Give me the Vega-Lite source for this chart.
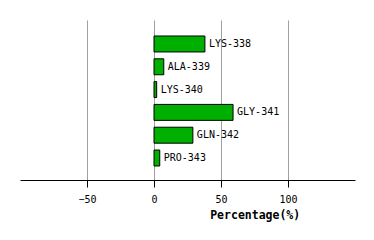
{
  "$schema": "https://vega.github.io/schema/vega-lite/v6.json",
  "width": 335,
  "height": 160,
  "autosize": "none",
  "padding": {"left": 20, "top": 20, "right": 19, "bottom": 60},
  "background": "white",
  "config": {"view": {"stroke": null}},
  "data": {
    "values": [
      {"residue": "LYS-338", "pct": 38},
      {"residue": "ALA-339", "pct": 7.3},
      {"residue": "LYS-340", "pct": 2},
      {"residue": "GLY-341", "pct": 59},
      {"residue": "GLN-342", "pct": 29},
      {"residue": "PRO-343", "pct": 4.3}
    ]
  },
  "encoding": {
    "y": {
      "field": "residue",
      "type": "nominal",
      "sort": null,
      "scale": {"paddingInner": 0.3, "paddingOuter": 0.658, "align": 0.533},
      "axis": null
    },
    "x": {
      "field": "pct",
      "type": "quantitative",
      "scale": {"domain": [-100, 150], "nice": false, "zero": false},
      "axis": {
        "values": [-50, 0, 50, 100],
        "title": "Percentage(%)",
        "titleFont": "DejaVu Sans Mono",
        "titleFontSize": 11.5,
        "titleFontWeight": "bold",
        "titleColor": "black",
        "titleX": 234.7,
        "titleAlign": "center",
        "titlePadding": 5,
        "labelFont": "DejaVu Sans Mono",
        "labelFontSize": 10,
        "labelColor": "black",
        "labelPadding": 7,
        "domainColor": "black",
        "domainWidth": 1,
        "tickColor": "black",
        "tickSize": 7,
        "gridColor": "#a0a0a0",
        "gridWidth": 1,
        "gridOpacity": 1
      }
    }
  },
  "layer": [
    {
      "mark": {"type": "bar", "color": "#00b000", "stroke": "black", "strokeWidth": 1},
      "encoding": {"x2": {"datum": 0}}
    },
    {
      "mark": {"type": "text", "align": "left", "baseline": "middle", "dx": 4, "font": "DejaVu Sans Mono", "fontSize": 10, "color": "black"},
      "encoding": {"text": {"field": "residue"}}
    }
  ]
}
